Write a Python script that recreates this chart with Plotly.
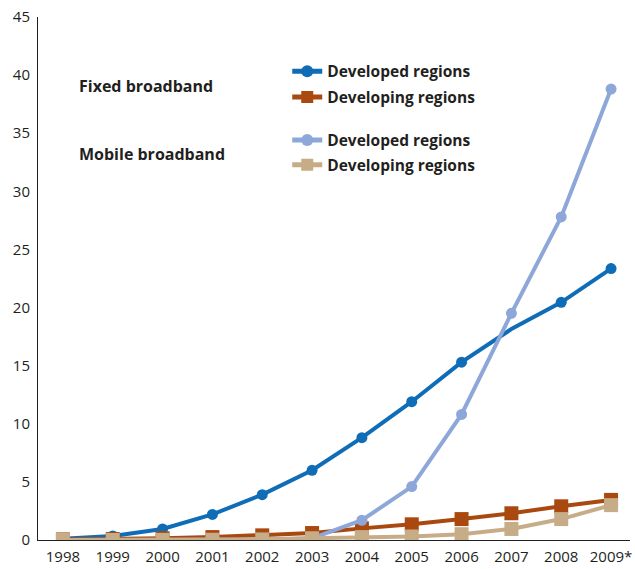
import plotly.graph_objects as go

years = [1998, 1999, 2000, 2001, 2002, 2003, 2004, 2005, 2006, 2007, 2008, 2009]
tick_labels = ["1998", "1999", "2000", "2001", "2002", "2003", "2004", "2005", "2006", "2007", "2008", "2009*"]
y_ticks = [0, 5, 10, 15, 20, 25, 30, 35, 40, 45]

fixed_developed = [0.1, 0.35, 0.95, 2.2, 3.9, 6.0, 8.8, 11.9, 15.3, 18.15, 20.45, 23.35]
fixed_developing = [0.05, 0.08, 0.15, 0.25, 0.4, 0.6, 1.0, 1.35, 1.8, 2.3, 2.9, 3.45]
mobile_developed = [0.0, 0.0, 0.0, 0.02, 0.05, 0.15, 1.7, 4.6, 10.8, 19.5, 27.8, 38.8]
mobile_developing = [0.0, 0.0, 0.01, 0.02, 0.05, 0.15, 0.25, 0.3, 0.5, 0.95, 1.8, 3.0]

C_DB = "#0f6cb6"
C_OR = "#a9490f"
C_LB = "#8ea7d9"
C_TN = "#c6ad88"

font_family = "Open Sans, Lato, sans-serif"
TXT = "#231f20"

fig = go.Figure()
fig.add_trace(go.Scatter(
    x=years, y=fixed_developed, name="Developed regions", mode="lines+markers",
    line=dict(color=C_DB, width=4), legend="legend",
    marker=dict(symbol="circle", size=11,
                color=[C_DB] * 9 + ["rgba(0,0,0,0)"] + [C_DB, C_DB])))
fig.add_trace(go.Scatter(
    x=years, y=fixed_developing, name="Developing regions", mode="lines+markers",
    line=dict(color=C_OR, width=4), legend="legend2",
    marker=dict(symbol="square", size=14, color=C_OR)))
fig.add_trace(go.Scatter(
    x=years, y=mobile_developed, name="Developed regions", mode="lines+markers",
    line=dict(color=C_LB, width=4), legend="legend3",
    marker=dict(symbol="circle", size=11, color=C_LB)))
fig.add_trace(go.Scatter(
    x=years, y=mobile_developing, name="Developing regions", mode="lines+markers",
    line=dict(color=C_TN, width=4), legend="legend4",
    marker=dict(symbol="square", size=14, color=C_TN)))


def leg(yc):
    return dict(
        x=0.421, y=yc, xanchor="left", yanchor="middle",
        font=dict(size=15.5, color=TXT, family=font_family, weight="bold"),
        bgcolor="rgba(0,0,0,0)", itemsizing="constant",
    )


fig.update_layout(
    width=635, height=569,
    margin=dict(l=38, r=3, t=17, b=21),
    plot_bgcolor="white", paper_bgcolor="white",
    font=dict(family=font_family, size=15, color=TXT),
    showlegend=True,
    legend=leg(0.8954),
    legend2=leg(0.846),
    legend3=leg(0.764),
    legend4=leg(0.7167),
    xaxis=dict(
        range=[1997.5, 2009.38], tickvals=years, ticktext=tick_labels,
        showgrid=False, zeroline=False, showline=True, linecolor=TXT, linewidth=1,
        ticks="", tickfont=dict(size=15), ticklabelstandoff=3,
    ),
    yaxis=dict(
        range=[0, 45], tickvals=y_ticks,
        showgrid=False, zeroline=False, showline=True, linecolor=TXT, linewidth=1,
        ticks="", tickfont=dict(size=15), ticklabelstandoff=4,
    ),
    annotations=[
        dict(text="<b>Fixed broadband</b>", x=0.0657, y=0.869, xref="paper", yref="paper",
             xanchor="left", yanchor="middle", showarrow=False, font=dict(size=16)),
        dict(text="<b>Mobile broadband</b>", x=0.0657, y=0.738, xref="paper", yref="paper",
             xanchor="left", yanchor="middle", showarrow=False, font=dict(size=16)),
    ],
)

fig.write_html("out.html", config={"displayModeBar": False},
               post_script="document.body.style.margin='0px';")
